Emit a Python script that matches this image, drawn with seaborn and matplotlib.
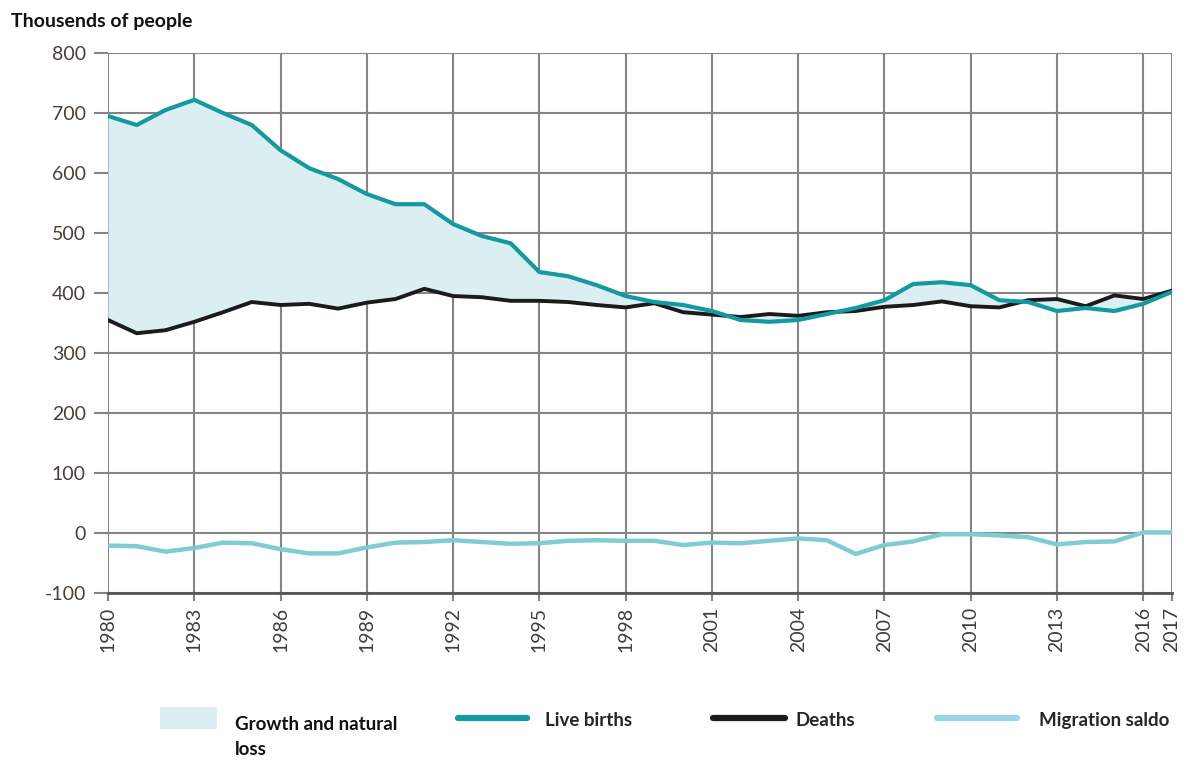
import numpy as np
import pandas as pd
import matplotlib
matplotlib.use("Agg")
import matplotlib.pyplot as plt
from matplotlib.patches import Patch
from matplotlib.lines import Line2D
import seaborn as sns

years = list(range(1980, 2018))

live_births = [695, 680, 705, 722, 700, 680, 638, 608, 590, 565,
               548, 548, 515, 495, 483, 435, 428, 413, 395, 385,
               380, 370, 355, 352, 355, 365, 375, 388, 415, 418,
               413, 388, 385, 370, 375, 370, 382, 402]

deaths = [355, 333, 338, 352, 368, 385, 380, 382, 374, 384,
          390, 407, 395, 393, 387, 387, 385, 380, 376, 383,
          368, 364, 360, 365, 362, 368, 370, 377, 380, 386,
          378, 376, 388, 390, 378, 396, 390, 404]

migration = [-21, -22, -31, -25, -16, -17, -27, -34, -34, -24,
             -16, -15, -12, -15, -18, -17, -13, -12, -13, -13,
             -20, -16, -17, -13, -9, -12, -35, -20, -14, -2,
             -2, -4, -7, -19, -15, -14, 1, 1]

tick_years = [1980, 1983, 1986, 1989, 1992, 1995, 1998, 2001, 2004,
              2007, 2010, 2013, 2016, 2017]

df = pd.DataFrame({"year": years, "births": live_births,
                   "deaths": deaths, "migration": migration})

c_births = "#13999f"
c_deaths = "#1b1b1b"
c_migr = "#7fcdd2"
c_fill = "#dbeef2"
c_grid = "#858585"

sns.set_theme(style="white")
plt.rcParams["font.family"] = ["Open Sans", "DejaVu Sans"]
plt.rcParams["axes.unicode_minus"] = False

W, H = 1192, 764
fig = plt.figure(figsize=(W / 100, H / 100), dpi=100)
ax = fig.add_axes([0.0906, 0.2238, 0.8926, 0.7068])

ax.fill_between(df["year"], df["births"], df["deaths"], color=c_fill, lw=0, zorder=1)
sns.lineplot(data=df, x="year", y="migration", color=c_migr, lw=3.2, ax=ax, zorder=3)
sns.lineplot(data=df, x="year", y="deaths", color=c_deaths, lw=2.8, ax=ax, zorder=4)
sns.lineplot(data=df, x="year", y="births", color=c_births, lw=3.0, ax=ax, zorder=5)

ax.set_xlim(1980, 2017)
ax.set_ylim(-100, 800)
ax.set_xticks(tick_years)
ax.set_xticklabels([str(t) for t in tick_years], rotation=90)
ax.set_yticks(range(-100, 801, 100))
ax.set_xlabel("")
ax.set_ylabel("")

ax.grid(True, color=c_grid, lw=1.5, zorder=0)
ax.set_axisbelow(True)
for s in ["top", "right", "left"]:
    ax.spines[s].set_visible(False)
ax.spines["bottom"].set_color("#555555")
ax.spines["bottom"].set_linewidth(2)

ax.tick_params(axis="x", bottom=True, length=6, width=1.5, color=c_grid,
               labelsize=14, labelcolor="#3d3d3d", pad=4)
ax.tick_params(axis="y", left=True, length=10, width=1.5, color=c_grid,
               labelsize=14, labelcolor="#4a4036", pad=6)
for lab in ax.get_xticklabels() + ax.get_yticklabels():
    lab.set_fontfamily(["Lato", "DejaVu Sans"])

fig.text(0.009, 0.972, "Thousends of people", fontsize=14, fontweight="bold",
         family=["Lato", "DejaVu Sans"], color="#111111", ha="left", va="center")

leg_font = {"size": 13.5, "weight": "bold", "family": ["Lato", "DejaVu Sans"]}

# fill swatch, its label sits lower in two lines
fig.legend([Patch(facecolor=c_fill, edgecolor="none")], [""], loc="upper left",
           bbox_to_anchor=(160 / W, 1 - 707 / H), frameon=False, borderpad=0,
           borderaxespad=0, handlelength=3.05, handleheight=1.45, handletextpad=0,
           prop=leg_font)
fig.text(235 / W, 1 - 716 / H, "Growth and natural\nloss", ha="left", va="top",
         linespacing=1.55, fontsize=13.5, fontweight="bold",
         family=["Lato", "DejaVu Sans"], color="#111111")

leg_items = [
    (Line2D([], [], color=c_births, lw=4.5), "Live births", 458, 3.7, 0.95),
    (Line2D([], [], color=c_deaths, lw=4.5), "Deaths", 713, 3.85, 0.55),
    (Line2D([], [], color="#9bd8e6", lw=4.5), "Migration saldo", 937, 4.25, 1.2),
]
for handle, label, xpx, hl, pad in leg_items:
    fig.legend([handle], [label], loc="upper left",
               bbox_to_anchor=(xpx / W, 1 - 711 / H), frameon=False,
               borderpad=0, borderaxespad=0, handlelength=hl,
               handleheight=1.0, handletextpad=pad, prop=leg_font)

fig.savefig("out.png", dpi=100)
